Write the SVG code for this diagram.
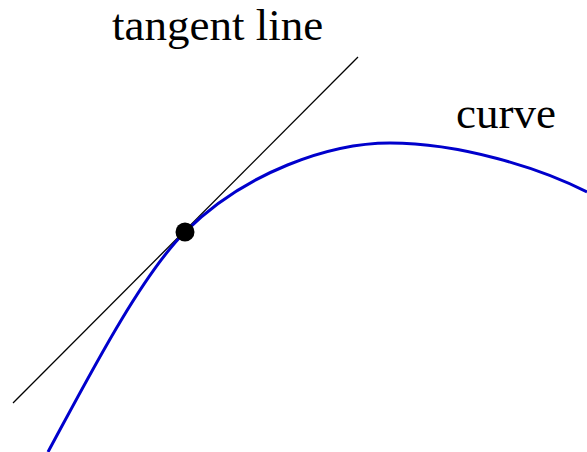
<svg xmlns="http://www.w3.org/2000/svg" width="587" height="452" viewBox="0 0 587 452">
<style>
.lbl{font-family:"Liberation Serif","Times New Roman",serif;font-size:45px;fill:#000}
.tan{stroke:#000;stroke-width:1.3;fill:none}
.crv{stroke:#0000cc;stroke-width:3;fill:none}
</style>
<rect width="587" height="452" fill="#fff"/>
<g id="connectors">
<line class="tan" x1="13" y1="403" x2="358" y2="57"/>
<path class="crv" d="M48,452 C88,378 140,277 185,232 C245,172 330,143 390,143 C460,143 540,168 587,192"/>
</g>
<g id="point"><circle cx="185" cy="232" r="9.5" fill="#000"/></g>
<g id="label-tangent"><text class="lbl" x="112" y="40">tangent line</text></g>
<g id="label-curve"><text class="lbl" x="456" y="128">curve</text></g>
</svg>
